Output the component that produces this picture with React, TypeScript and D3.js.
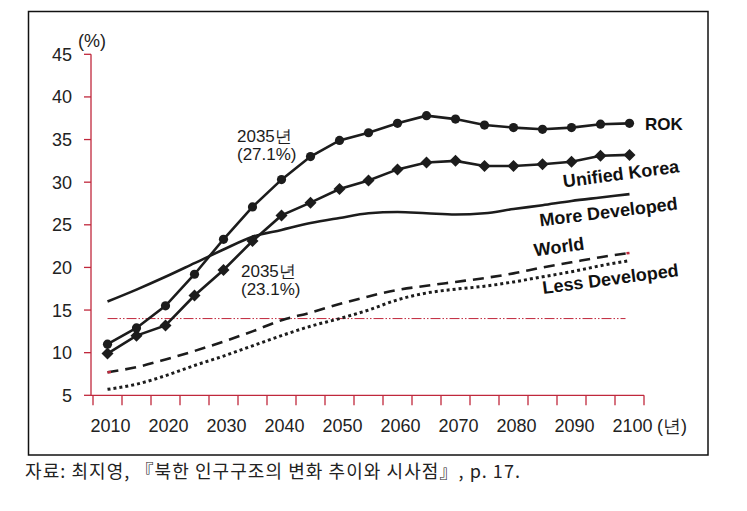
import React from "react";
import * as d3 from "d3";

const years = [2010, 2015, 2020, 2025, 2030, 2035, 2040, 2045, 2050, 2055, 2060, 2065, 2070, 2075, 2080, 2085, 2090, 2095, 2100];
const rok = [11.0, 12.9, 15.5, 19.2, 23.3, 27.1, 30.3, 33.0, 34.9, 35.8, 36.9, 37.8, 37.4, 36.7, 36.4, 36.2, 36.4, 36.8, 36.9];
const unifiedKorea = [9.9, 12.0, 13.2, 16.7, 19.7, 23.1, 26.1, 27.6, 29.2, 30.2, 31.5, 32.3, 32.5, 31.9, 31.9, 32.1, 32.4, 33.1, 33.2];
const moreDeveloped = [16.0, 17.4, 18.9, 20.5, 22.1, 23.6, 24.4, 25.2, 25.8, 26.35, 26.5, 26.35, 26.2, 26.35, 26.85, 27.3, 27.8, 28.2, 28.6];
const world = [7.7, 8.3, 9.2, 10.2, 11.3, 12.5, 13.8, 14.7, 15.7, 16.6, 17.35, 17.85, 18.3, 18.75, 19.3, 20.0, 20.6, 21.2, 21.7];
const lessDeveloped = [5.7, 6.3, 7.3, 8.5, 9.6, 10.8, 12.0, 13.1, 14.0, 15.0, 16.2, 17.0, 17.45, 17.8, 18.3, 18.9, 19.5, 20.2, 20.8];
const refLevel = 14;
const yTicks = [5, 10, 15, 20, 25, 30, 35, 40, 45];
const xLabelYears = [2010, 2020, 2030, 2040, 2050, 2060, 2070, 2080, 2090, 2100];

const AXIS = "#c0283c";
const INK = "#1c1c1c";

export default function App() {
  const x = d3.scaleBand<number>().domain(years).range([93, 644]).padding(0);
  const cx = (yr: number) => (x(yr) as number) + x.bandwidth() / 2;
  const y = d3.scaleLinear().domain([5, 45]).range([395.3, 54.3]);

  const pts = (arr: number[]) => arr.map((v, i) => [cx(years[i]), y(v)] as [number, number]);
  const straight = d3.line().curve(d3.curveLinear);
  const smooth = d3.line().curve(d3.curveMonotoneX);

  const step = x.step();
  const tickXs = d3.range(years.length + 1).map((i) => 93 + i * step);

  const worldPts = pts(world);
  const wStart = worldPts[0];
  const wEnd = worldPts[worldPts.length - 1];

  const diamond = (px: number, py: number) =>
    `M${px},${py - 6}L${px + 6},${py}L${px},${py + 6}L${px - 6},${py}Z`;

  const sans = "'Liberation Sans', Arial, Helvetica, sans-serif";

  return (
    <svg
      width={747}
      height={511}
      style={{ position: "absolute", left: 0, top: 0, background: "#fff" }}
      fontFamily={sans}
    >
      <rect x={0} y={0} width={747} height={511} fill="#fff" />
      <rect x={28.5} y={11.5} width={679.5} height={443.5} fill="none" stroke="#111" strokeWidth={1.5} />

      {/* reference line */}
      <line
        x1={cx(2010)}
        x2={cx(2100) - 4}
        y1={y(refLevel)}
        y2={y(refLevel)}
        stroke={AXIS}
        strokeWidth={1}
        strokeDasharray="10,2,1.5,2,1.5,2"
      />

      {/* axes */}
      <line x1={91} x2={91} y1={y(45)} y2={y(5)} stroke={AXIS} strokeWidth={1.3} />
      {yTicks.map((t) => (
        <g key={t}>
          <line x1={84} x2={91} y1={y(t)} y2={y(t)} stroke={AXIS} strokeWidth={1.3} />
          <text x={72} y={y(t) + 6.5} textAnchor="end" fontSize={18} fill="#222">
            {t}
          </text>
        </g>
      ))}
      <text x={78} y={47} fontSize={18} fill="#222">(%)</text>

      <line x1={91} x2={644} y1={y(5)} y2={y(5)} stroke={AXIS} strokeWidth={1.3} />
      {tickXs.map((tx, i) => (
        <line key={i} x1={tx} x2={tx} y1={y(5)} y2={y(5) + 10} stroke={AXIS} strokeWidth={1.3} />
      ))}
      {xLabelYears.map((yr) => (
        <text key={yr} x={cx(yr) + 3} y={431.5} textAnchor="middle" fontSize={18} fill="#222">
          {yr}
        </text>
      ))}
      <text x={657} y={431.5} fontSize={18} fill="#222">(년)</text>

      {/* series */}
      <path d={smooth(pts(lessDeveloped)) || ""} fill="none" stroke={INK} strokeWidth={3} strokeDasharray="3,3" />
      <path d={smooth(worldPts) || ""} fill="none" stroke={INK} strokeWidth={2.6} strokeDasharray="11,7" />
      <line x1={wStart[0]} y1={wStart[1]} x2={wStart[0] + 3.5} y2={wStart[1] - 0.3} stroke={AXIS} strokeWidth={2.6} />
      <line x1={wEnd[0] - 3} y1={wEnd[1] + 0.4} x2={wEnd[0]} y2={wEnd[1]} stroke={AXIS} strokeWidth={2.6} />
      <path d={smooth(pts(moreDeveloped)) || ""} fill="none" stroke={INK} strokeWidth={2.6} />

      <path d={straight(pts(unifiedKorea)) || ""} fill="none" stroke={INK} strokeWidth={2.6} />
      {pts(unifiedKorea).map(([px, py], i) => (
        <path key={i} d={diamond(px, py)} fill={INK} />
      ))}
      <path d={straight(pts(rok)) || ""} fill="none" stroke={INK} strokeWidth={2.6} />
      {pts(rok).map(([px, py], i) => (
        <circle key={i} cx={px} cy={py} r={4.6} fill={INK} />
      ))}

      {/* annotations */}
      <text x={237} y={142} fontSize={17} fill={INK}>2035년</text>
      <text x={237} y={160} fontSize={17} fill={INK}>(27.1%)</text>
      <text x={241} y={277} fontSize={17} fill={INK}>2035년</text>
      <text x={241} y={295} fontSize={17} fill={INK}>(23.1%)</text>

      {/* series labels */}
      <text x={645} y={130} fontSize={17} fontWeight="bold" fill="#111">ROK</text>
      <text x={621} y={174} fontSize={18} fontWeight="bold" fill="#111" textAnchor="middle" dominantBaseline="central" transform="rotate(-7.5 621 174)">
        Unified Korea
      </text>
      <text x={608.5} y={212} fontSize={18} fontWeight="bold" fill="#111" textAnchor="middle" dominantBaseline="central" transform="rotate(-7 608.5 212)">
        More Developed
      </text>
      <text x={559} y={247} fontSize={18} fontWeight="bold" fill="#111" textAnchor="middle" dominantBaseline="central" transform="rotate(-8 559 247)">
        World
      </text>
      <text x={610.5} y={279} fontSize={18} fontWeight="bold" fill="#111" textAnchor="middle" dominantBaseline="central" transform="rotate(-7.5 610.5 279)">
        Less Developed
      </text>

      {/* source */}
      <text
        x={25}
        y={478}
        fontSize={18}
        fill="#222"
        fontFamily="'Noto Sans CJK KR', 'DejaVu Serif', serif"
        textLength={495}
        lengthAdjust="spacing"
      >
        자료: 최지영, 『북한 인구구조의 변화 추이와 시사점』, p. 17.
      </text>
    </svg>
  );
}
